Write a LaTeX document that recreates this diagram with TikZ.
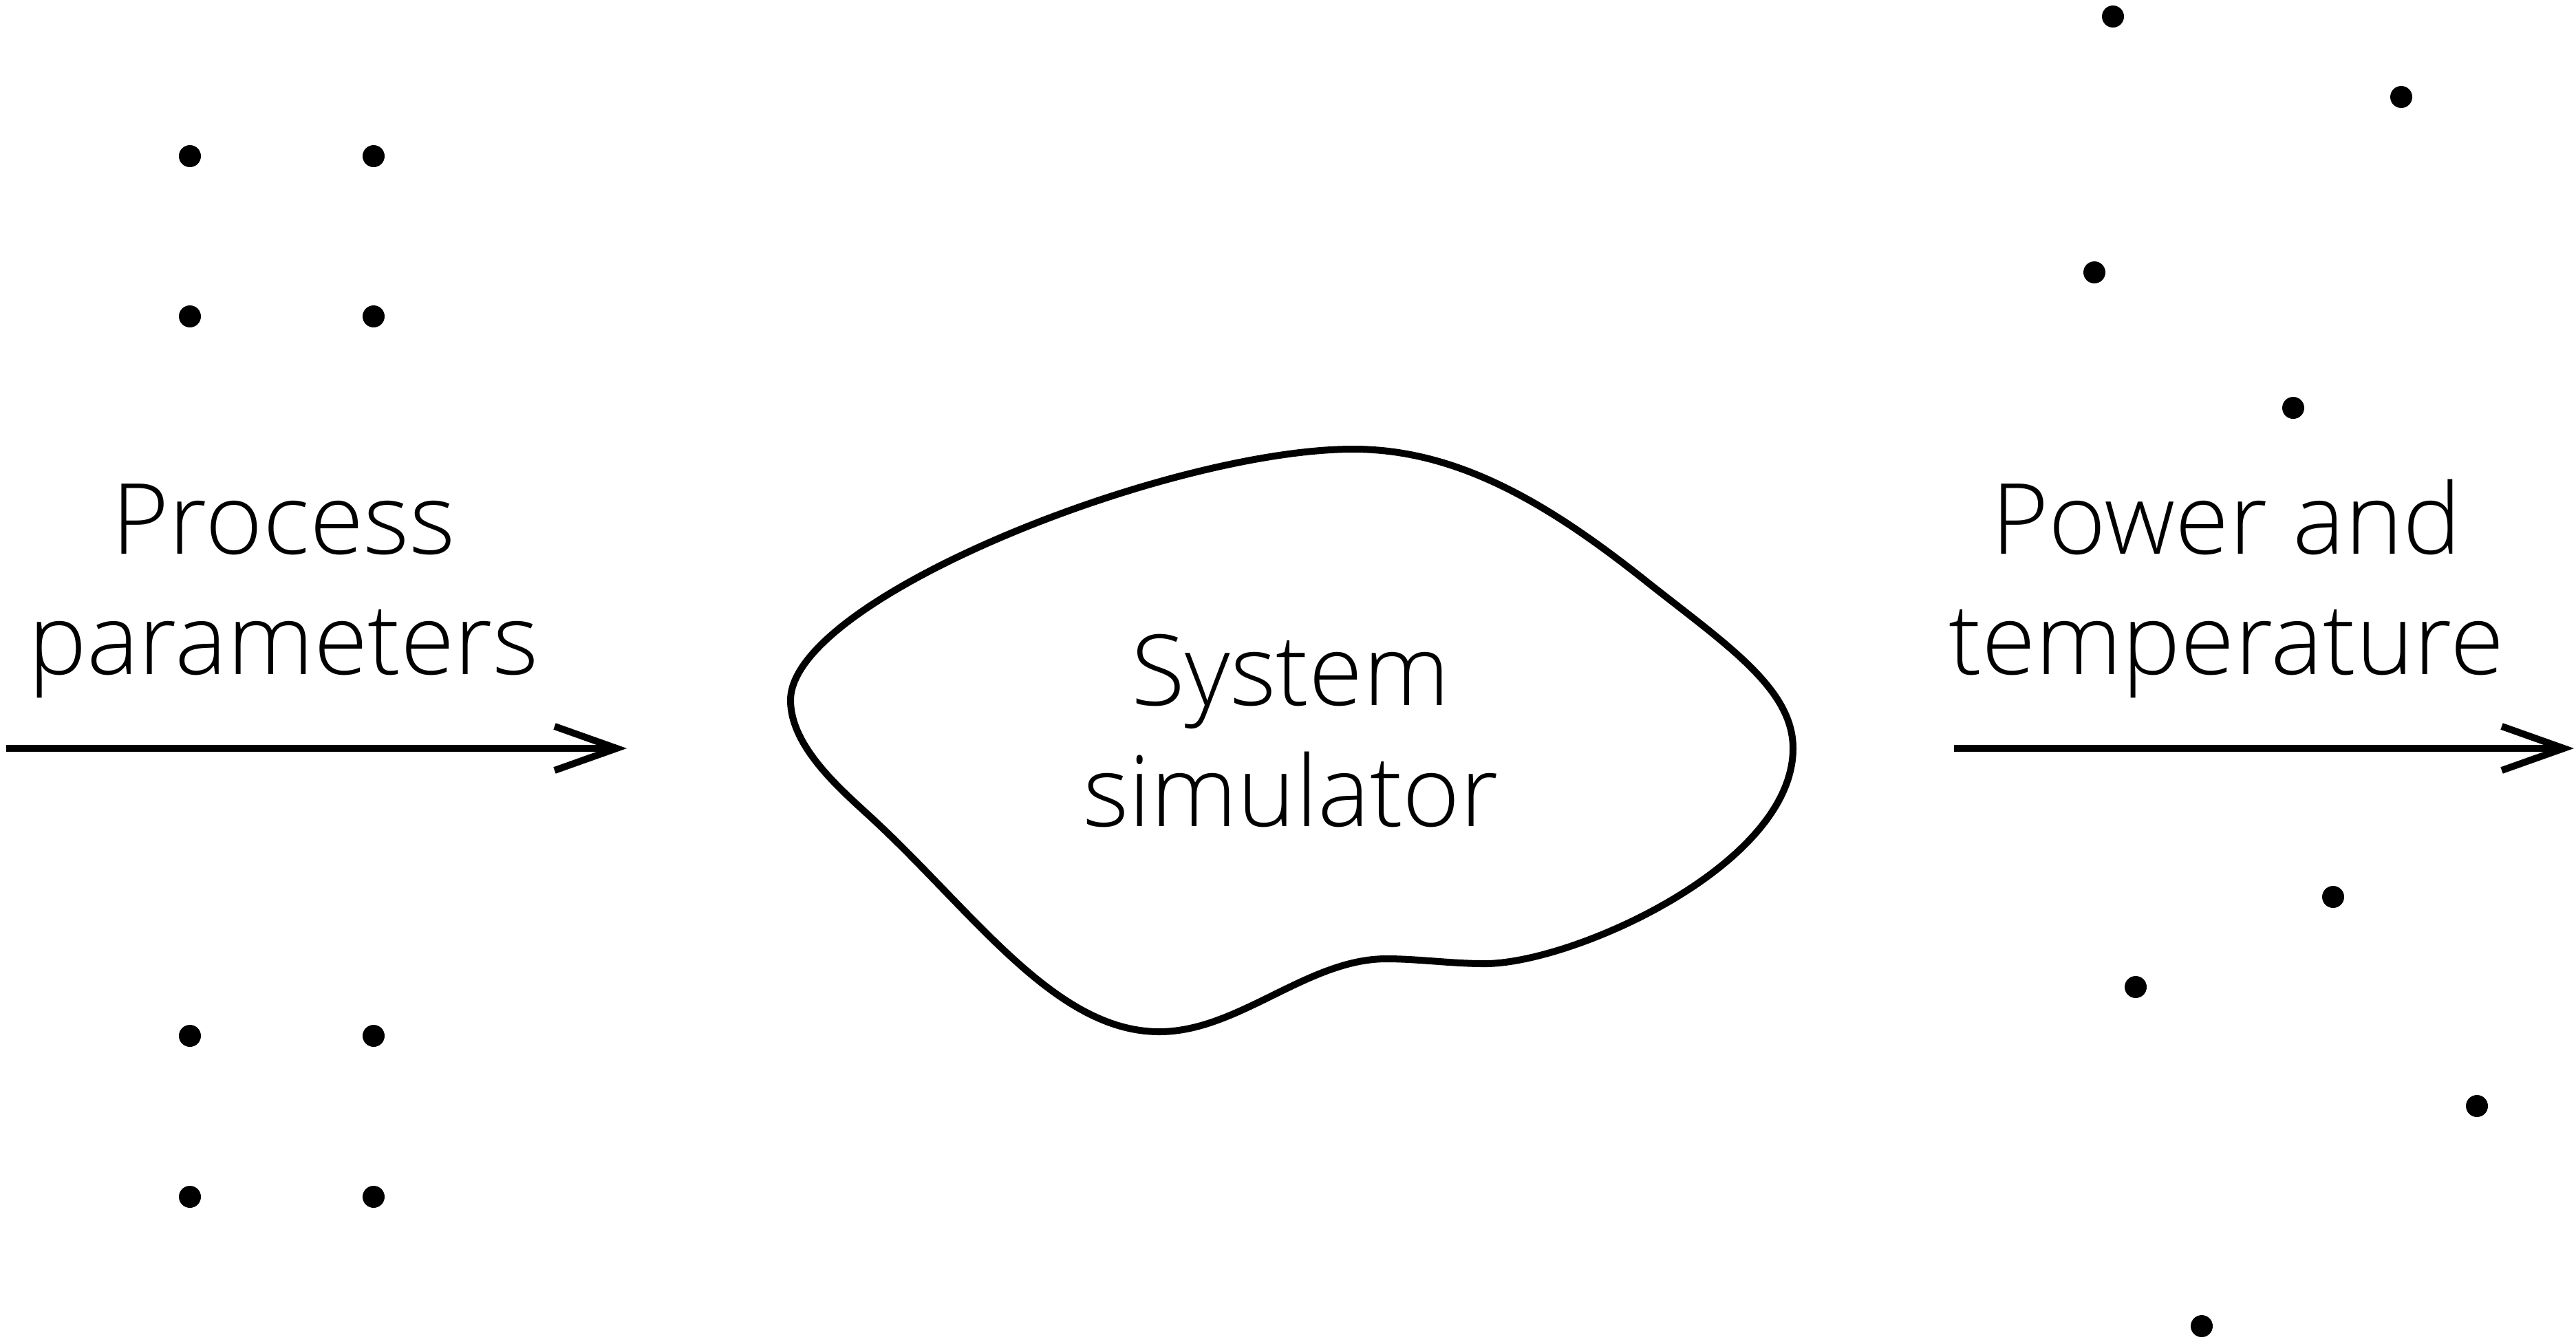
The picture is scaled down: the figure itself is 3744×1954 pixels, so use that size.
\documentclass[tikz,border=0pt]{standalone}
\usepackage{fontspec}
\setmainfont{Open Sans Light}
\usetikzlibrary{arrows.meta}

\tikzset{
  flow/.style={line width=0.1cm, -{Straight Barb[length=0.9cm, width=0.64cm, line width=0.1cm]}},
  blob/.style={line width=0.1cm, line join=round},
  dot/.style={fill=black},
  lbl/.style={anchor=base, inner sep=0pt, font=\fontsize{40.6pt}{49.8pt}\selectfont},
}

\begin{document}
\begin{tikzpicture}[x=0.01cm, y=-0.01cm]
  \useasboundingbox (0,0) rectangle (3744,1954);

  % input side: parameter grid
  \foreach \px in {276,543}
    \foreach \py in {227,460,1506,1740}
      \fill[dot] (\px,\py) circle[radius=16];

  % output side: scattered results
  \foreach \px/\py in {3071/24, 3490/141, 3044/396, 3333/593,
                       3391/1304, 3104/1435, 3600/1608, 3200/1928}
    \fill[dot] (\px,\py) circle[radius=16];

  % input label and arrow
  \node[lbl] (inTop) at (412,805) {Process};
  \node[lbl] (inBot) at (412,980) {parameters};
  \coordinate (inStart) at (9,1088);
  \coordinate (inEnd) at (911,1088);
  \draw[flow] (inStart) -- (inEnd);

  % simulator outline: a closed free-form curve
  \coordinate (bL)  at (1149,1018);
  \coordinate (bT)  at (1967,653);
  \coordinate (bM1) at (2390,843);
  \coordinate (bR)  at (2606,1088);
  \coordinate (bD1) at (2156,1401);
  \coordinate (bD2) at (2015,1394);
  \coordinate (bB)  at (1685,1500);
  \coordinate (bM2) at (1271,1193);
  \draw[blob] (bL)
    .. controls (1149,870)  and (1700,653)  .. (bT)
    .. controls (2117,653)  and (2249,731)  .. (bM1)
    .. controls (2507,936)  and (2606,1000) .. (bR)
    .. controls (2606,1260) and (2280,1403) .. (bD1)
    .. controls (2110,1401) and (2060,1394) .. (bD2)
    .. controls (1900,1394) and (1800,1500) .. (bB)
    .. controls (1535,1500) and (1417,1329) .. (bM2)
    .. controls (1227,1152) and (1149,1088) .. (bL) -- cycle;
  \node[lbl] (simTop) at (1876,1025) {System};
  \node[lbl] (simBot) at (1876,1201) {simulator};

  % output label and arrow
  \node[lbl] (outTop) at (3236,805) {Power and};
  \node[lbl] (outBot) at (3236,980) {temperature};
  \coordinate (outStart) at (2840,1088);
  \coordinate (outEnd) at (3741,1088);
  \draw[flow] (outStart) -- (outEnd);
\end{tikzpicture}
\end{document}
